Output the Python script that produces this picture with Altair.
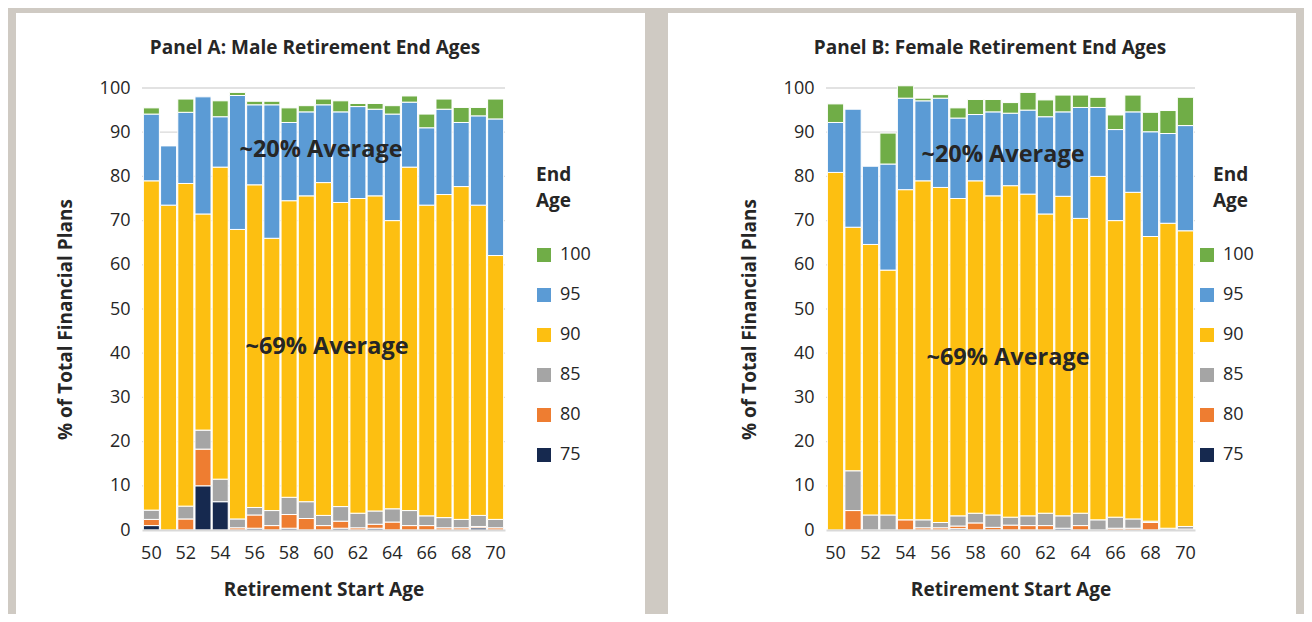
import altair as alt
import pandas as pd

ages = list(range(50, 71))
end_ages = ["75", "80", "85", "90", "95", "100"]
legend_order = ["100", "95", "90", "85", "80", "75"]
colors = ["#70ad47", "#5b9bd5", "#fdbf11", "#a5a5a5", "#ee7d31", "#16294f"]
y_ticks = list(range(0, 101, 10))
x_ticks = list(range(50, 71, 2))

# Panel A: male (values in % of plans, per retirement start age 50..70)
male_75 = [1.0, 0, 0, 10.0, 6.4, 0, 0.4, 0, 0.4, 0, 0, 0.4, 0, 0.4, 0, 0, 0, 0, 0, 0.5, 0]
male_80 = [1.4, 0, 2.5, 8.3, 0, 0.5, 3.0, 1.0, 3.1, 2.6, 1.0, 1.6, 0.5, 0.9, 1.8, 1.0, 1.0, 0.5, 0.5, 0.3, 0.5]
male_85 = [2.1, 0, 2.9, 4.3, 5.1, 2.0, 1.7, 3.4, 3.9, 3.8, 2.3, 3.3, 3.3, 3.0, 3.0, 3.4, 2.2, 2.3, 1.9, 2.5, 1.9]
male_90 = [74.5, 73.5, 73.0, 48.9, 70.6, 65.5, 73.0, 61.6, 67.1, 69.2, 75.3, 68.8, 71.2, 71.3, 65.2, 77.7, 70.3, 73.1, 75.3, 70.2, 59.7]
male_95 = [15.1, 13.4, 16.1, 26.5, 11.4, 30.3, 18.1, 30.2, 17.7, 19.0, 17.6, 20.5, 20.8, 19.6, 24.1, 14.7, 17.5, 19.3, 14.5, 20.2, 30.9]
male_100 = [1.4, 0, 3.0, 0, 3.6, 0.7, 0.8, 0.8, 3.3, 1.4, 1.3, 2.5, 0.7, 1.3, 1.9, 1.4, 3.1, 2.3, 3.4, 1.9, 4.5]

# Panel B: female
female_75 = [0, 0, 0, 0, 0, 0, 0, 0.3, 0, 0, 0, 0, 0, 0.4, 0, 0, 0, 0, 0, 0, 0]
female_80 = [0, 4.4, 0, 0, 2.3, 0.5, 0.5, 0.6, 1.6, 0.6, 1.1, 1.0, 1.0, 0, 1.0, 0, 0.4, 0.4, 1.7, 0, 0.2]
female_85 = [0, 9.0, 3.4, 3.4, 0, 1.8, 1.2, 2.3, 2.2, 2.8, 1.8, 2.2, 2.8, 2.8, 2.8, 2.3, 2.5, 2.1, 0.3, 0.4, 0.6]
female_90 = [80.9, 55.1, 61.2, 55.4, 74.7, 76.7, 75.8, 71.8, 75.2, 72.2, 75.0, 72.8, 67.7, 72.3, 66.7, 77.7, 67.1, 73.9, 64.4, 69.0, 66.9]
female_95 = [11.3, 26.7, 17.7, 24.0, 20.7, 18.1, 20.2, 18.2, 15.0, 19.0, 16.4, 19.0, 22.0, 19.1, 25.1, 15.6, 20.6, 18.2, 23.7, 20.3, 23.8]
female_100 = [4.2, 0, 0, 7.0, 2.8, 0.6, 0.8, 2.3, 3.4, 2.8, 2.4, 4.0, 3.8, 3.8, 2.8, 2.3, 3.3, 3.8, 4.4, 5.2, 6.4]

male = [male_75, male_80, male_85, male_90, male_95, male_100]
female = [female_75, female_80, female_85, female_90, female_95, female_100]

FONT = "Open Sans"
TXT = "#262626"
H = 442


def make_panel(vals, title, W, left_ext, right_ext, legend_x, legend_title_x,
               title_pos, ann20_pos, ann69_pos):
    rows = []
    for end, series in zip(end_ages, vals):
        for a, v in zip(ages, series):
            if v > 0:
                rows.append({"age": a, "end": end, "ord": int(end), "value": v})
    df = pd.DataFrame(rows)
    yscale = alt.Scale(domain=[0, 100], nice=False)
    yaxis = alt.Axis(values=y_ticks, grid=False, ticks=False, domain=False,
                     labelPadding=12, titlePadding=24, titleY=231,
                     title="% of Total Financial Plans", zindex=1)

    bg = alt.Chart(pd.DataFrame({"k": [0]})).mark_rect(color="white").encode(
        x=alt.value(-left_ext), x2=alt.value(W + right_ext),
        y=alt.value(-75), y2=alt.value(526))

    grid = alt.Chart(pd.DataFrame({"value": y_ticks[1:]})).mark_rule(
        color="#d9d9d9", strokeWidth=1.3).encode(
        y=alt.Y("value:Q", scale=yscale, axis=yaxis),
        x=alt.value(0), x2=alt.value(W))

    bars = alt.Chart(df).mark_bar(stroke="white", strokeWidth=1).encode(
        x=alt.X("age:O", scale=alt.Scale(paddingInner=0.07, paddingOuter=0.08),
                axis=alt.Axis(values=x_ticks, labelAngle=0, ticks=False, domain=True,
                              domainColor="#d9d9d9", domainWidth=2, labelPadding=14,
                              titlePadding=18, title="Retirement Start Age", zindex=1)),
        y=alt.Y("value:Q", stack="zero", scale=yscale, axis=yaxis),
        color=alt.Color("end:N", scale=alt.Scale(domain=legend_order, range=colors),
                        legend=alt.Legend(orient="none", legendX=legend_x, legendY=158,
                                          title=None,
                                          symbolType="square", symbolSize=196,
                                          symbolStrokeWidth=0, labelFontSize=18,
                                          labelColor=TXT, labelOffset=7, rowPadding=22,
                                          labelFont=FONT)),
        order=alt.Order("ord:Q", sort="ascending"))

    def txt(s, pos, size, align="center"):
        return alt.Chart(pd.DataFrame({"label": [s]})).mark_text(
            font=FONT, fontSize=size, fontWeight="bold", color=TXT,
            align=align, baseline="middle").encode(
            text="label:N", x=alt.value(pos[0]), y=alt.value(pos[1]))

    layer = alt.layer(
        bg, grid, bars,
        txt(title, title_pos, 19),
        txt("~20% Average", ann20_pos, 23.5),
        txt("~69% Average", ann69_pos, 23.5),
        txt("End", (legend_title_x, 87), 19, "left"),
        txt("Age", (legend_title_x, 113), 19, "left"),
    ).properties(width=W, height=H)
    return layer


WA = 363
WB = 369
panel_a = make_panel(male, "Panel A: Male Retirement End Ages", WA, 126, 140, 393, 394,
                     (173, -40), (179, 62), (185, 259))
panel_b = make_panel(female, "Panel B: Female Retirement End Ages", WB, 158, 101, 372, 387,
                     (164, -40), (177, 67), (182, 270))

chart = alt.hconcat(panel_a, panel_b, spacing=23).resolve_scale(
    color="independent").properties(
    background="#cfcac3",
    padding={"left": 8, "top": 5, "right": 8, "bottom": 0},
).configure_view(stroke=None).configure_axis(
    labelFont=FONT, titleFont=FONT, labelFontSize=18, titleFontSize=19,
    titleFontWeight="bold", labelColor=TXT, titleColor=TXT,
)

chart.save("out.html", embed_options={"renderer": "svg", "actions": False})
